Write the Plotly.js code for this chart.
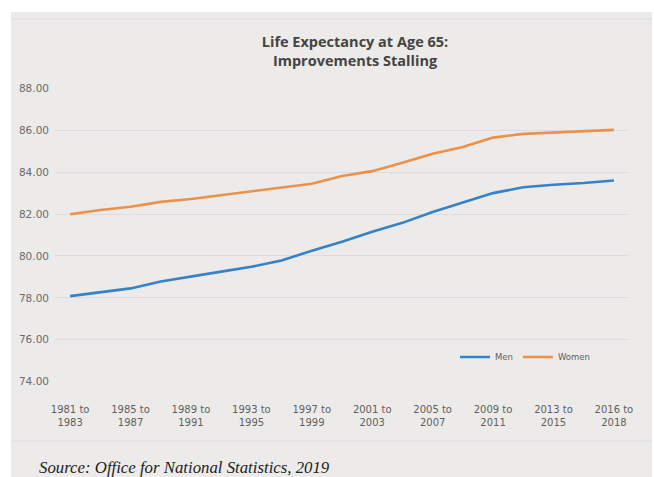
<!DOCTYPE html>
<html>
<head>
<meta charset="utf-8">
<script src="https://cdn.plot.ly/plotly-3.0.1.min.js"></script>
<style>html,body{margin:0;padding:0;background:#fff;}#chart{width:654px;height:477px;}</style>
</head>
<body>
<div id="chart"></div>
<script>
// Three-year periods (life expectancy at age 65, years)
const periods = [
  "1981 to 1983","1983 to 1985","1985 to 1987","1987 to 1989","1989 to 1991",
  "1991 to 1993","1993 to 1995","1995 to 1997","1997 to 1999","1999 to 2001",
  "2001 to 2003","2003 to 2005","2005 to 2007","2007 to 2009","2009 to 2011",
  "2011 to 2013","2013 to 2015","2015 to 2017","2016 to 2018"
];
const men = [78.08,78.26,78.45,78.78,79.03,79.25,79.48,79.78,80.25,80.68,
             81.15,81.58,82.10,82.55,83.00,83.28,83.40,83.48,83.60];
const women = [81.99,82.19,82.35,82.58,82.72,82.90,83.08,83.27,83.45,83.82,
               84.05,84.45,84.88,85.20,85.65,85.83,85.90,85.96,86.02];
const tickPeriods = ["1981 to 1983","1985 to 1987","1989 to 1991","1993 to 1995",
  "1997 to 1999","2001 to 2003","2005 to 2007","2009 to 2011","2013 to 2015","2016 to 2018"];
const yTicks = [74,76,78,80,82,84,86,88];
const titleText = "Life Expectancy at Age 65:<br>Improvements Stalling";
const sourceText = "Source: Office for National Statistics, 2019";

const W = 654, H = 477, M = {l:55, r:25, t:88, b:95};
const pw = W - M.l - M.r, ph = H - M.t - M.b;
const px = x => (x - M.l) / pw;
const py = y => (H - M.b - y) / ph;

const grey = '#5f5f5f';
const tickFont = 'DejaVu Sans, sans-serif';
const traces = [
  {x: periods, y: men, name: 'Men', type: 'scatter', mode: 'lines',
   line: {color: '#3582c6', width: 2.6}},
  {x: periods, y: women, name: 'Women', type: 'scatter', mode: 'lines',
   line: {color: '#ee9148', width: 2.6}}
];

const layout = {
  width: W, height: H,
  margin: M,
  paper_bgcolor: '#ffffff',
  plot_bgcolor: 'rgba(0,0,0,0)',
  showlegend: true,
  font: {family: tickFont, color: grey},
  title: {
    text: '<b>' + titleText + '</b>',
    font: {family: 'Open Sans, sans-serif', size: 14.5, color: '#444444'},
    xref: 'container', x: 355 / W, xanchor: 'center',
    yref: 'container', y: 1 - 47 / H, yanchor: 'top'
  },
  xaxis: {
    type: 'category',
    range: [-0.5, periods.length - 0.5],
    showgrid: false, zeroline: false, showline: false,
    ticks: '',
    tickvals: tickPeriods,
    ticktext: tickPeriods.map(s => s.replace(' to ', ' to<br>')),
    tickfont: {family: tickFont, size: 10, color: grey},
    ticklabelstandoff: 20,
    fixedrange: true
  },
  yaxis: {
    range: [73.98, 88.02],
    tickvals: yTicks,
    tickformat: '.2f',
    showgrid: true, gridcolor: '#dcdce2', gridwidth: 1,
    zeroline: false, showline: false, ticks: '',
    tickfont: {family: tickFont, size: 10.5, color: '#6a6a6a'},
    ticklabelstandoff: 5,
    fixedrange: true
  },
  legend: {
    orientation: 'h',
    x: px(455), xanchor: 'left',
    y: py(357), yanchor: 'middle',
    bgcolor: 'rgba(0,0,0,0)',
    font: {family: tickFont, size: 8.5, color: grey},
    itemwidth: 30,
    tracegroupgap: 0
  },
  shapes: [
    {type: 'rect', layer: 'below', xref: 'paper', yref: 'paper',
     x0: px(11), x1: px(652), y0: py(12), y1: py(478),
     fillcolor: '#ecebe9', line: {width: 0}},
    {type: 'line', layer: 'below', xref: 'paper', yref: 'paper',
     x0: px(11), x1: px(652), y0: py(19), y1: py(19),
     line: {color: '#dcdce2', width: 1}},
    {type: 'line', layer: 'below', xref: 'paper', yref: 'paper',
     x0: px(11), x1: px(652), y0: py(441), y1: py(441),
     line: {color: '#dcdce2', width: 1}}
  ],
  annotations: [
    {text: '<i>' + sourceText + '</i>', showarrow: false,
     xref: 'paper', yref: 'paper', x: px(37), y: py(467),
     xanchor: 'left', yanchor: 'middle',
     font: {family: 'Liberation Serif, serif', size: 16.8, color: '#222222'}}
  ]
};

Plotly.newPlot('chart', traces, layout, {displayModeBar: false, staticPlot: true});
</script>
</body>
</html>
